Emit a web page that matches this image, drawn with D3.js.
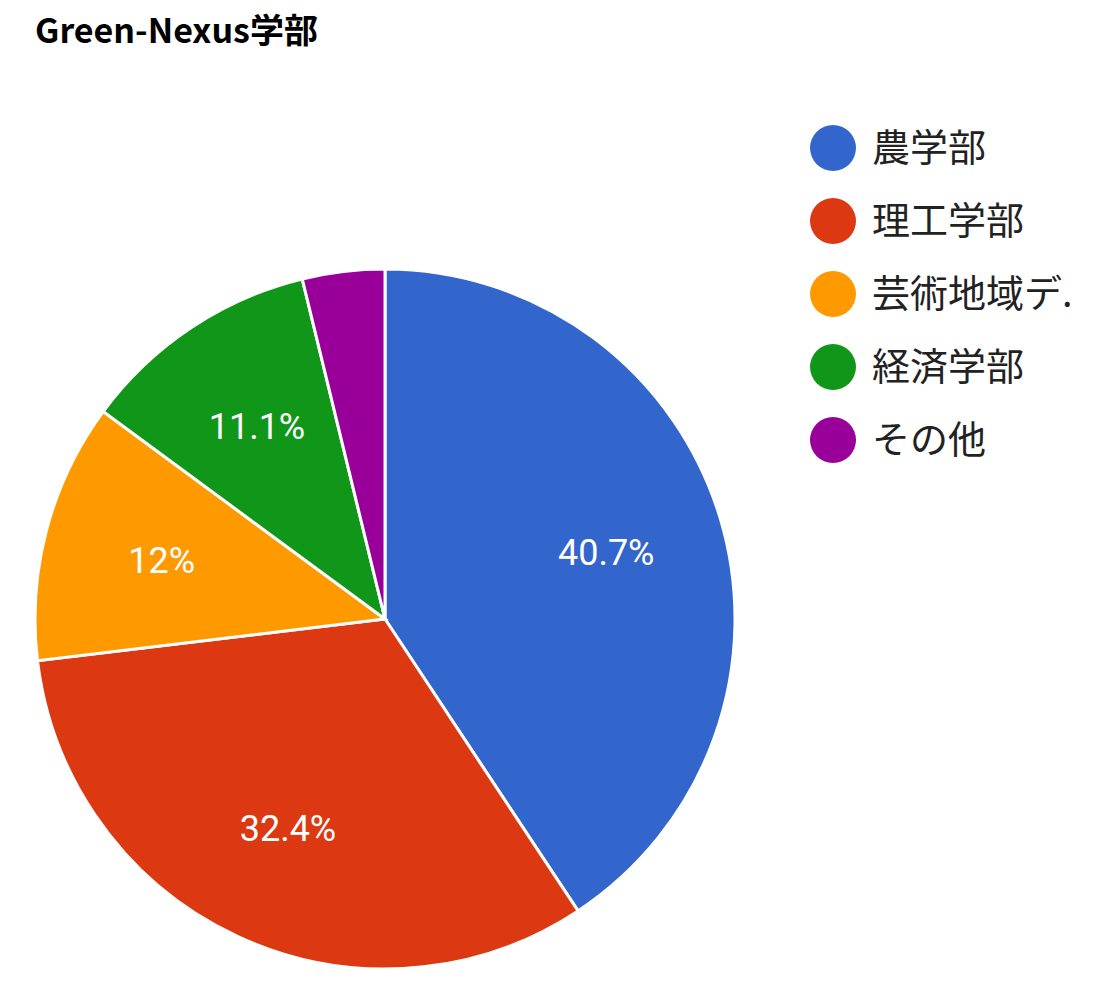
<!DOCTYPE html>
<html>
<head>
<meta charset="utf-8">
<script src="https://cdn.jsdelivr.net/npm/d3@7.9.0/dist/d3.min.js"></script>
<style>
  body { margin: 0; background: #fff; }
  text { font-family: "Noto Sans CJK JP", Roboto, sans-serif; }
</style>
</head>
<body>
<svg width="1110" height="986"></svg>
<script>
const labels = ['農学部', '理工学部', '芸術地域デ.', '経済学部', 'その他'];
const values = [40.7, 32.4, 12, 11.1, 3.8];
const pctLabels = ['40.7%', '32.4%', '12%', '11.1%', ''];
const colors = ['#3366cc', '#dc3912', '#ff9900', '#109618', '#990099'];

const svg = d3.select('svg');

svg.append('text')
  .attr('x', 35).attr('y', 43)
  .attr('font-size', 34).attr('font-weight', 'bold')
  .text('Green-Nexus学部');

const cx = 385, cy = 619, r = 350;
const g = svg.append('g').attr('transform', `translate(${cx},${cy})`);

let pie = d3.pie().sort(null).value((d) => d);
let arcData = pie(values);
let arcGen = d3.arc().innerRadius(0).outerRadius(r);
let labelArc = d3.arc().innerRadius(r * 0.66).outerRadius(r * 0.66);

g.selectAll('path')
  .data(arcData)
  .join('path')
  .attr('d', arcGen)
  .attr('fill', (d, i) => colors[i])
  .attr('stroke', '#fff')
  .attr('stroke-width', 3);

g.selectAll('text.pct')
  .data(arcData)
  .join('text')
  .attr('class', 'pct')
  .attr('transform', (d) => `translate(${labelArc.centroid(d)})`)
  .attr('text-anchor', 'middle')
  .attr('dy', '0.35em')
  .attr('fill', '#fff')
  .attr('font-size', 36)
  .style('font-family', 'Roboto, Arial, sans-serif')
  .text((d, i) => pctLabels[i]);

// legend
const legend = svg.append('g');
labels.forEach((lab, i) => {
  let y = 148 + i * 73;
  legend.append('circle')
    .attr('cx', 833).attr('cy', y).attr('r', 23)
    .attr('fill', colors[i]);
  legend.append('text')
    .attr('x', 872).attr('y', y).attr('dy', '0.35em')
    .attr('font-size', 38).attr('fill', '#222')
    .text(lab);
});
</script>
</body>
</html>
